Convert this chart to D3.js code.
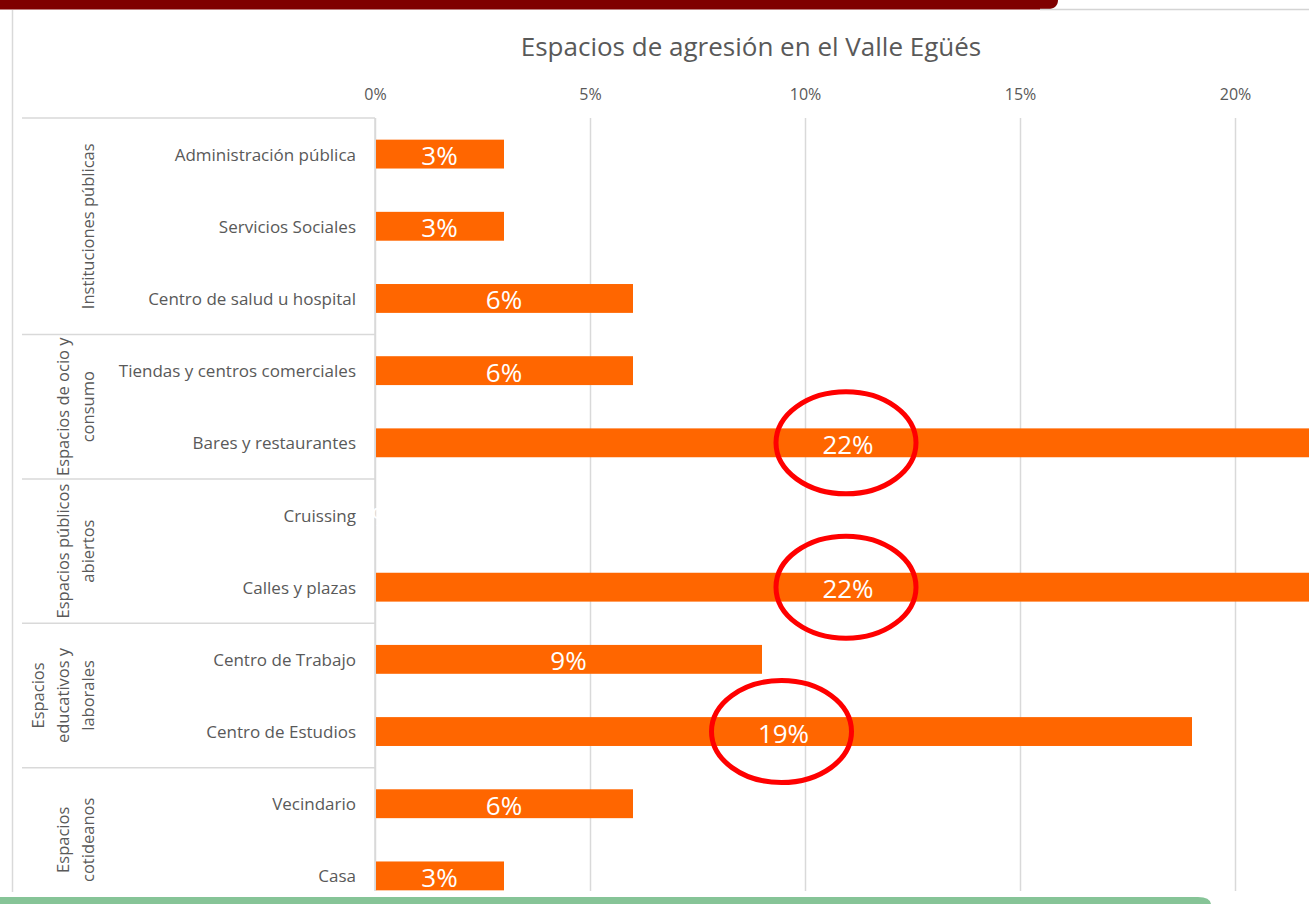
<!DOCTYPE html>
<html>
<head>
<meta charset="utf-8">
<script src="https://cdn.jsdelivr.net/npm/d3@7"></script>
<style>
  body { margin: 0; background: #fff; overflow: hidden; }
  svg { display: block; font-family: "Open Sans", sans-serif; }
</style>
</head>
<body>
<div id="chart"></div>
<script>
// values
var categories = ["Administración pública", "Servicios Sociales", "Centro de salud u hospital",
  "Tiendas y centros comerciales", "Bares y restaurantes", "Cruissing", "Calles y plazas",
  "Centro de Trabajo", "Centro de Estudios", "Vecindario", "Casa"];
var values = [3, 3, 6, 6, 22, 0, 22, 9, 19, 6, 3];
var groupNames = [["Instituciones públicas"], ["Espacios de ocio y", "consumo"],
  ["Espacios públicos", "abiertos"], ["Espacios", "educativos y", "laborales"],
  ["Espacios", "cotideanos"]];
var groupStarts = [0, 3, 5, 7, 9];
var groupSizes = [3, 2, 2, 2, 2];
var tickLabels = [0, 5, 10, 15, 20];
var highlighted = ["Bares y restaurantes", "Calles y plazas", "Centro de Estudios"];

var svgWidth = 1309, svgHeight = 904;
var plotTop = 118, plotBottom = 912, gridBottom = 891;

var svg = d3.select("#chart").append("svg")
  .attr("width", svgWidth)
  .attr("height", svgHeight);

// page decoration: top bar, left rule, bottom bar
svg.append("path")
  .attr("d", "M0,0 H1058 V0 Q1058,9 1046,9.5 H0 Z")
  .attr("fill", "#7f0000");
svg.append("line")
  .attr("x1", 1040).attr("x2", svgWidth).attr("y1", 9.5).attr("y2", 9.5)
  .attr("stroke", "#d4d4d4").attr("stroke-width", 1.5);
svg.append("line")
  .attr("x1", 12.5).attr("x2", 12.5).attr("y1", 10).attr("y2", 892)
  .attr("stroke", "#d9d9d9").attr("stroke-width", 1.5);

// scales
var x = d3.scaleLinear().domain([0, 25]).range([375, 375 + 25 * 43]);
var y = d3.scaleBand().domain(categories).range([plotTop, plotBottom])
  .paddingInner(0.6).paddingOuter(0.3);

var chart = svg.append("g");

// title
chart.append("text")
  .attr("x", 751).attr("y", 56)
  .attr("text-anchor", "middle")
  .attr("font-size", "26px")
  .attr("fill", "#595959")
  .text("Espacios de agresión en el Valle Egüés");

// gridlines
var grid = chart.append("g")
  .attr("transform", `translate(0, ${gridBottom})`)
  .call(d3.axisBottom(x).tickValues(tickLabels).tickSize(-(gridBottom - plotTop)).tickFormat(""));
grid.select(".domain").remove();
grid.selectAll("line").attr("stroke", "#d9d9d9").attr("stroke-width", 1.5);

// top axis labels
var xAxis = chart.append("g")
  .attr("transform", `translate(0, ${plotTop})`)
  .call(d3.axisTop(x).tickValues(tickLabels).tickSize(0).tickPadding(18).tickFormat(d => d + "%"));
xAxis.select(".domain").remove();
xAxis.selectAll("text")
  .attr("font-family", "Open Sans, sans-serif")
  .attr("font-size", "16px")
  .attr("fill", "#595959");

// group boxes on the left
var step = y.step();
var groupG = chart.append("g");
groupStarts.forEach(function (s, i) {
  var y0 = plotTop + s * step;
  groupG.append("line")
    .attr("x1", 22).attr("x2", 375).attr("y1", y0).attr("y2", y0)
    .attr("stroke", "#d9d9d9").attr("stroke-width", 1.5);
  var yc = y0 + groupSizes[i] * step / 2;
  var lines = groupNames[i];
  var t = groupG.append("text")
    .attr("transform", `translate(0, ${yc}) rotate(-90)`)
    .attr("text-anchor", "middle")
    .attr("font-size", "16.5px")
    .attr("fill", "#595959");
  lines.forEach(function (ln, j) {
    t.append("tspan")
      .attr("x", 0)
      .attr("y", 87 - (lines.length - 1 - j) * 25)
      .attr("dominant-baseline", "central")
      .text(ln);
  });
});

// category labels
chart.append("g").selectAll("text")
  .data(categories)
  .enter()
  .append("text")
  .attr("x", 356)
  .attr("y", d => y(d) + y.bandwidth() / 2)
  .attr("text-anchor", "end")
  .attr("dominant-baseline", "central")
  .attr("font-size", "17px")
  .attr("fill", "#595959")
  .text(d => d);

// bars
chart.append("g").selectAll("rect")
  .data(categories)
  .enter()
  .append("rect")
  .attr("x", x(0) + 1)
  .attr("y", d => y(d))
  .attr("width", (d, i) => Math.max(0, x(values[i]) - x(0) - 1))
  .attr("height", y.bandwidth())
  .attr("fill", "#ff6600");

// axis line at 0
chart.append("line")
  .attr("x1", x(0)).attr("x2", x(0)).attr("y1", plotTop).attr("y2", gridBottom)
  .attr("stroke", "#d9d9d9").attr("stroke-width", 1.5);

// value labels
chart.append("g").selectAll("text")
  .data(categories)
  .enter()
  .append("text")
  .attr("x", (d, i) => (x(0) + x(values[i])) / 2)
  .attr("y", d => y(d) + y.bandwidth() / 2 + 1)
  .attr("text-anchor", "middle")
  .attr("dominant-baseline", "central")
  .attr("font-size", "26px")
  .attr("fill", "#ffffff")
  .text((d, i) => values[i] + "%");

// red ellipses round the largest values
chart.append("g").selectAll("ellipse")
  .data(highlighted)
  .enter()
  .append("ellipse")
  .attr("cx", d => (x(0) + x(values[categories.indexOf(d)])) / 2 - 2)
  .attr("cy", d => y(d) + y.bandwidth() / 2)
  .attr("rx", 70)
  .attr("ry", 51)
  .attr("fill", "none")
  .attr("stroke", "#ff0000")
  .attr("stroke-width", 5);

// green bar at the bottom
svg.append("path")
  .attr("d", "M0,897 H1198 Q1210,897 1211,904 H0 Z")
  .attr("fill", "#86c497");
</script>
</body>
</html>
